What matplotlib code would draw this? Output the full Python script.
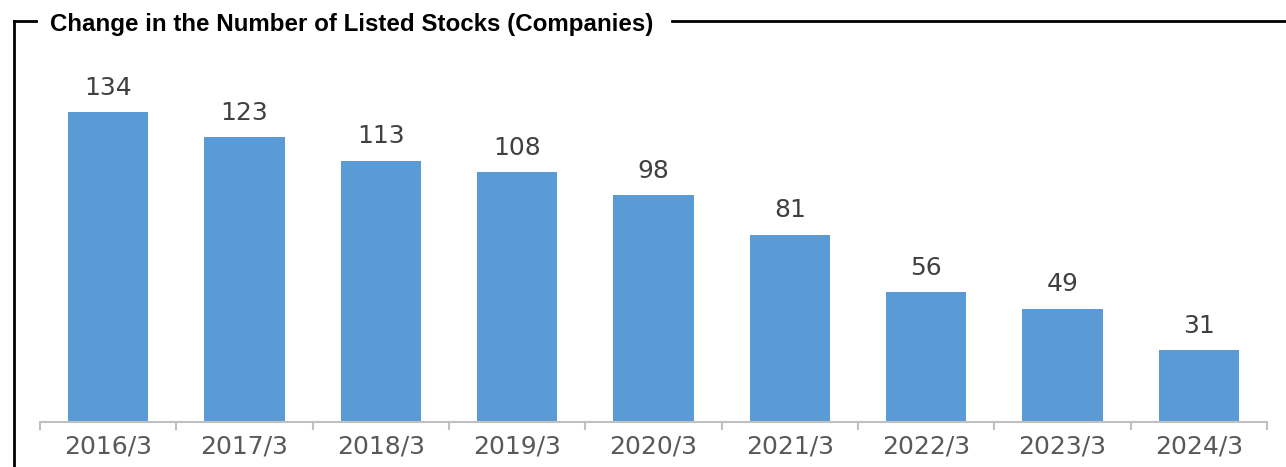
import numpy as np
import matplotlib.pyplot as plt
from matplotlib.lines import Line2D

years = ["2016/3", "2017/3", "2018/3", "2019/3", "2020/3", "2021/3", "2022/3", "2023/3", "2024/3"]
listed = [134, 123, 113, 108, 98, 81, 56, 49, 31]

plt.rcParams.update({"font.family": "DejaVu Sans"})
bar_color = "#5b9bd5"; axis_color = "#c0c0c0"; text_color = "#595959"

W, H = 1286, 467
fig = plt.figure(figsize=(W/100, H/100), dpi=100)
ax = fig.add_axes([40/W, 45/H, 1227/W, 362/H])

x = np.arange(len(years))
bars = ax.bar(x, listed, width=0.59, color=bar_color, zorder=2)
for xi, v in zip(x, listed):
    ax.annotate(str(v), (xi, v), xytext=(0, 9), textcoords="offset points",
                ha="center", va="bottom", fontsize=18, color="#404040")

ax.set_xlim(-0.5, len(years) - 0.5)
ax.set_ylim(0, 156.5)
ax.set_yticks([])
for s in ["top", "right", "left"]:
    ax.spines[s].set_visible(False)
ax.spines["bottom"].set_color(axis_color)
ax.spines["bottom"].set_linewidth(1.5)
ax.set_xticks(x)
ax.set_xticklabels(years, fontsize=18, color=text_color)
ax.tick_params(axis="x", length=0, pad=9)
ax.set_xticks(np.arange(-0.5, len(years)), minor=True)
ax.tick_params(axis="x", which="minor", length=6, width=1.5, color=axis_color)

# frame around the chart with the title set into the top edge
lw = 2
fig.add_artist(Line2D([14/W, 14/W], [0, 1 - 21/H], color="black", lw=lw))
fig.add_artist(Line2D([14/W, 36/W], [1 - 21/H, 1 - 21/H], color="black", lw=lw))
fig.add_artist(Line2D([672/W, 1], [1 - 21/H, 1 - 21/H], color="black", lw=lw))
fig.text(50/W, 1 - 24/H, "Change in the Number of Listed Stocks (Companies)",
         family=["Liberation Sans", "DejaVu Sans"],
         fontweight="bold", fontsize=17.4, ha="left", va="center", color="black")

fig.savefig("out.png", dpi=100)
